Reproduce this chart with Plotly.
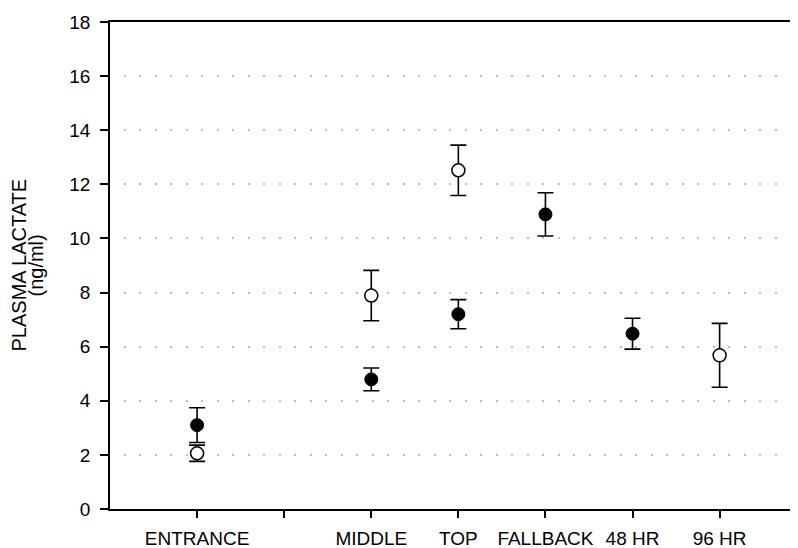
import plotly.graph_objects as go

# Tick categories (second slot is an unlabeled tick)
categories = ["ENTRANCE", "", "MIDDLE", "TOP", "FALLBACK", "48 HR", "96 HR"]

# Filled-circle series
filled_groups = ["ENTRANCE", "MIDDLE", "TOP", "FALLBACK", "48 HR"]
filled_values = [3.10, 4.79, 7.20, 10.89, 6.48]
filled_errors = [0.64, 0.42, 0.54, 0.80, 0.57]

# Open-circle series
open_groups = ["ENTRANCE", "MIDDLE", "TOP", "96 HR"]
open_values = [2.06, 7.89, 12.52, 5.68]
open_errors = [0.30, 0.93, 0.93, 1.18]

y_ticks = [0, 2, 4, 6, 8, 10, 12, 14, 16, 18]

FONT = "Liberation Sans, Arial, sans-serif"

def pos(names):
    return [categories.index(n) + 1 for n in names]

fig = go.Figure()

err_style = dict(type="data", visible=True, color="black", thickness=1.6, width=8)

fig.add_trace(go.Scatter(
    x=pos(open_groups), y=open_values, mode="markers",
    marker=dict(symbol="circle", size=13, color="white",
                line=dict(color="black", width=1.5)),
    error_y=dict(array=open_errors, **err_style),
    showlegend=False,
))
fig.add_trace(go.Scatter(
    x=pos(filled_groups), y=filled_values, mode="markers",
    marker=dict(symbol="circle", size=13, color="black",
                line=dict(color="black", width=1)),
    error_y=dict(array=filled_errors, **err_style),
    showlegend=False,
))

# page body has an 8px default margin; size the figure to fill the window
fig.update_layout(
    width=790, height=540,
    margin=dict(l=102, r=0, t=14, b=39),
    paper_bgcolor="white", plot_bgcolor="white",
    font=dict(family=FONT, size=19, color="black"),
    xaxis=dict(
        range=[0, 7.9],
        tickmode="array",
        tickvals=list(range(1, len(categories) + 1)),
        ticktext=categories,
        ticks="outside", ticklen=7, tickwidth=1.5, tickcolor="black",
        showline=True, linecolor="black", linewidth=1.5, mirror=True,
        showgrid=False, zeroline=False, automargin=False,
        ticklabelstandoff=4,
        tickfont=dict(family=FONT, size=19, color="black"),
    ),
    yaxis=dict(
        range=[0, 18],
        tickmode="array", tickvals=y_ticks,
        ticks="outside", ticklen=8, tickwidth=1.5, tickcolor="black",
        showline=True, linecolor="black", linewidth=1.5,
        showgrid=True, gridcolor="#bdbdbd", gridwidth=2,
        griddash="0px,13.5px,2px,0px",
        zeroline=False, automargin=False,
        ticklabelstandoff=6,
        tickfont=dict(family=FONT, size=19, color="black"),
    ),
    annotations=[
        dict(text="PLASMA LACTATE", xref="paper", yref="paper", x=0, y=0.5,
             xanchor="center", yanchor="middle", xshift=-92, textangle=-90,
             showarrow=False, font=dict(family=FONT, size=20, color="black")),
        dict(text="(ng/ml)", xref="paper", yref="paper", x=0, y=0.5,
             xanchor="center", yanchor="middle", xshift=-75, textangle=-90,
             showarrow=False, font=dict(family=FONT, size=20, color="black")),
    ],
)

fig.write_html("out.html")
